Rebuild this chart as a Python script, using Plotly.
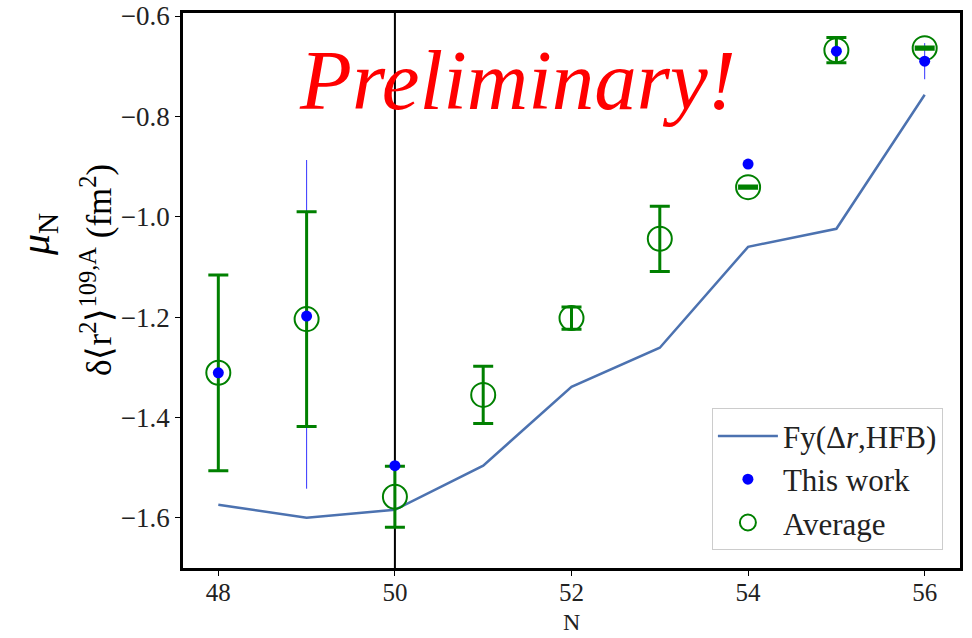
import plotly.graph_objects as go

N = [48, 49, 50, 51, 52, 53, 54, 55, 56]
fy_hfb = [-1.574, -1.600, -1.584, -1.496, -1.339, -1.261, -1.060, -1.024, -0.757]

work_N = [48, 49, 50, 54, 55, 56]
work_val = [-1.311, -1.198, -1.496, -0.895, -0.670, -0.690]
work_err_plus = [0.19, 0.311, 0.01, 0.005, 0.02, 0.036]
work_err_minus = [0.19, 0.344, 0.01, 0.005, 0.02, 0.036]

avg_N = [48, 49, 50, 51, 52, 53, 54, 55, 56]
avg_val = [-1.311, -1.204, -1.558, -1.355, -1.202, -1.044, -0.941, -0.668, -0.664]
avg_err = [0.195, 0.214, 0.061, 0.057, 0.022, 0.065, 0.002, 0.025, 0.002]

FONT = "Liberation Serif"

fig = go.Figure()

fig.add_trace(go.Scatter(
    x=N, y=fy_hfb, mode="lines", name="Fy(Δ<i>r</i>,HFB)",
    line=dict(color="#4c72b0", width=2.5), legendrank=1))

# blue error bars (drawn under the average markers)
fig.add_trace(go.Scatter(
    x=work_N, y=work_val, mode="markers", showlegend=False,
    marker=dict(color="rgba(0,0,255,0)", size=1),
    error_y=dict(type="data", symmetric=False, array=work_err_plus,
                 arrayminus=work_err_minus, color="#3333ff", thickness=1, width=0),
    hoverinfo="skip"))

fig.add_trace(go.Scatter(
    x=avg_N, y=avg_val, mode="markers", name="Average",
    marker=dict(symbol="circle-open", size=24, color="green", line=dict(width=2)),
    error_y=dict(type="data", array=avg_err, color="green", thickness=3, width=10),
    legendrank=3))

fig.add_trace(go.Scatter(
    x=work_N, y=work_val, mode="markers", name="This work",
    marker=dict(symbol="circle", size=11, color="blue"),
    legendrank=2))

fig.add_shape(type="line", xref="x", yref="paper", x0=50, x1=50, y0=0, y1=1,
              line=dict(color="black", width=2), layer="below")

fig.add_annotation(text="<i>Preliminary!</i>", xref="paper", yref="paper",
                   x=(517 - 183) / 777, y=(568 - 80) / 555, showarrow=False,
                   font=dict(family=FONT, size=85, color="red"),
                   xanchor="center", yanchor="middle")

fig.add_annotation(text="δ⟨r<sup>2</sup>⟩<sup>109,A</sup> (fm<sup>2</sup>)",
                   xref="paper", yref="paper", x=(96 - 183) / 777, y=(568 - 270) / 555,
                   showarrow=False, textangle=-90, xanchor="center", yanchor="middle",
                   font=dict(family=FONT, size=35, color="black"))
fig.add_annotation(text="<i>μ</i><sub>N</sub>",
                   xref="paper", yref="paper", x=(38 - 183) / 777, y=(568 - 235) / 555,
                   showarrow=False, textangle=-90, xanchor="center", yanchor="middle",
                   font=dict(family=FONT, size=42, color="black"))

fig.add_annotation(text="N", xref="paper", yref="paper", x=(571 - 183) / 777,
                   y=(568 - 622) / 555, showarrow=False, xanchor="center",
                   yanchor="middle", borderpad=0,
                   font=dict(family=FONT, size=24, color="#222"))

axis_common = dict(showgrid=False, zeroline=False, showline=True, linecolor="black",
                   linewidth=2.5, mirror=True, ticks="outside", ticklen=5, tickwidth=1,
                   tickcolor="black", automargin=False)

fig.update_xaxes(range=[47.6, 56.4], tickvals=[48, 50, 52, 54, 56],
                 ticklabelstandoff=-5,
                 tickfont=dict(family=FONT, size=25, color="#222"), **axis_common)
fig.update_yaxes(range=[-1.7, -0.594], tickvals=[-1.6, -1.4, -1.2, -1.0, -0.8, -0.6],
                 tickformat=".1f",
                 tickfont=dict(family=FONT, size=27, color="#222"), **axis_common)

fig.update_layout(
    width=972, height=638,
    margin=dict(l=183, r=12, t=13, b=70, autoexpand=False),
    plot_bgcolor="white", paper_bgcolor="white",
    font=dict(family=FONT, color="#222"),
    legend=dict(x=0.978, y=0.032, xanchor="right", yanchor="bottom",
                bgcolor="white", bordercolor="#cccccc", borderwidth=1,
                font=dict(family=FONT, size=31, color="#222"),
                itemwidth=60, tracegroupgap=4),
)

fig.write_html("out.html")
